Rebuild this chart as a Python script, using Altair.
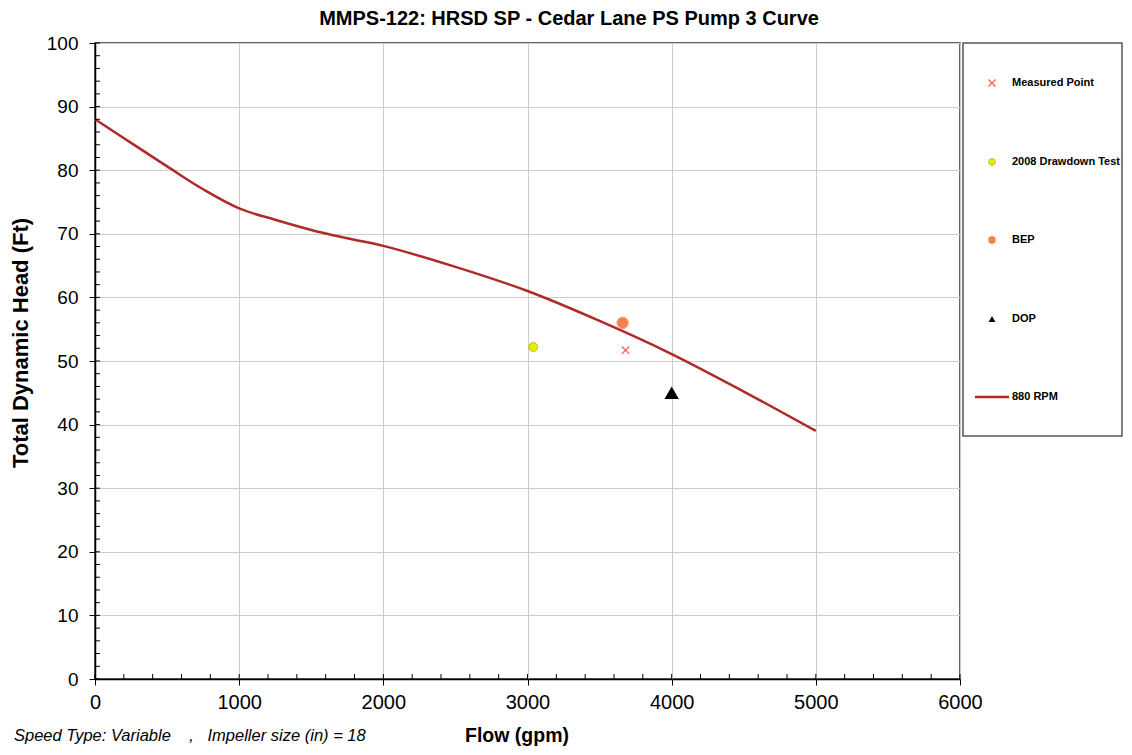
import altair as alt
import pandas as pd

# ---- data ----
curve_flow = [0, 250, 500, 750, 1000, 1250, 1500, 1750, 2000, 2500, 3000, 3500, 4000, 4500, 5000]
curve_head = [88.0, 84.3, 80.6, 77.0, 74.0, 72.2, 70.6, 69.3, 68.1, 64.8, 61.0, 56.3, 51.1, 45.2, 39.0]

measured_flow = [3680]
measured_head = [51.7]
drawdown_flow = [3040]
drawdown_head = [52.2]
bep_flow = [3660]
bep_head = [56.0]
dop_flow = [4000]
dop_head = [45.0]

x_major = [0, 1000, 2000, 3000, 4000, 5000, 6000]
y_major = [0, 10, 20, 30, 40, 50, 60, 70, 80, 90, 100]
x_minor = list(range(0, 6001, 200))
y_minor = list(range(0, 101, 2))

title_text = "MMPS-122: HRSD SP - Cedar Lane PS Pump 3 Curve"
x_title = "Flow (gpm)"
y_title = "Total Dynamic Head (Ft)"
footer_text = "Speed Type: Variable\u00a0\u00a0\u00a0\u00a0,\u00a0\u00a0\u00a0Impeller size (in) = 18"
legend_labels = ["Measured Point", "2008 Drawdown Test", "BEP", "DOP", "880 RPM"]

FONT = "Liberation Sans"
W, H = 865, 636

xs = alt.Scale(domain=[0, 6000], nice=False, zero=False)
ys = alt.Scale(domain=[0, 100], nice=False, zero=False)

x_axis = alt.Axis(values=x_major, grid=True, gridColor="#cccccc", gridWidth=1,
                  domainColor="#000000", domainWidth=1.5, tickColor="#000000",
                  tickSize=6, tickWidth=1, labelFont=FONT, labelFontSize=20,
                  labelColor="#000000", labelPadding=7, labelFlush=False,
                  format="d", title=None)
y_axis = alt.Axis(values=y_major, grid=True, gridColor="#cccccc", gridWidth=1,
                  domainColor="#000000", domainWidth=1.5, tickColor="#000000",
                  tickSize=6, tickWidth=1, labelFont=FONT, labelFontSize=19,
                  labelColor="#000000", labelPadding=11, labelFlush=False,
                  format="d", title=None)


def X():
    return alt.X("flow:Q", scale=xs, axis=x_axis, title=None)


def Y():
    return alt.Y("head:Q", scale=ys, axis=y_axis, title=None)


curve_df = pd.DataFrame({"flow": curve_flow, "head": curve_head})

line = alt.Chart(curve_df).mark_line(
    color="#b02a2a", strokeWidth=2.5, interpolate="catmull-rom"
).encode(x=X(), y=Y())

# inward minor ticks
minor_x = alt.Chart(pd.DataFrame({"flow": x_minor})).mark_rule(
    color="#000000", strokeWidth=1
).encode(x=X(), y=alt.value(H), y2=alt.value(H - 5))

minor_y = alt.Chart(pd.DataFrame({"head": y_minor})).mark_rule(
    color="#000000", strokeWidth=1
).encode(y=Y(), x=alt.value(0), x2=alt.value(5))

cross_path = "M-1,-1L1,1M1,-1L-1,1"

measured = alt.Chart(pd.DataFrame({"flow": measured_flow, "head": measured_head})).mark_point(
    shape=cross_path, size=55, stroke="#ff5a5a", strokeWidth=1.3, filled=False, opacity=1
).encode(x=X(), y=Y())

drawdown = alt.Chart(pd.DataFrame({"flow": drawdown_flow, "head": drawdown_head})).mark_point(
    shape="circle", size=80, fill="#e6ee00", stroke="#b8be20", strokeWidth=1, filled=True, opacity=1
).encode(x=X(), y=Y())

bep = alt.Chart(pd.DataFrame({"flow": bep_flow, "head": bep_head})).mark_point(
    shape="circle", size=130, fill="#f5804a", stroke="#f9a585", strokeWidth=1.2, filled=True, opacity=1
).encode(x=X(), y=Y())

dop = alt.Chart(pd.DataFrame({"flow": dop_flow, "head": dop_head})).mark_point(
    shape="triangle-up", size=210, fill="#000000", filled=True, opacity=1
).encode(x=X(), y=Y())

one = pd.DataFrame({"a": [0]})


def text_at(txt, x, y, size, weight="normal", style="normal", align="center", angle=0):
    kw = dict(text=txt, font=FONT, fontSize=size, fontWeight=weight, fontStyle=style,
              align=align, baseline="middle", color="#000000")
    if angle:
        kw["angle"] = angle
    return alt.Chart(one).mark_text(**kw).encode(x=alt.value(x), y=alt.value(y))


title = text_at(title_text, 474, -24, 20, weight="bold")
xt = text_at(x_title, 422, 693, 19.5, weight="bold")
yt = text_at(y_title, -74, 300, 22, weight="bold", angle=270)
footer = text_at(footer_text, -81, 693, 16.5, style="italic", align="left")

# legend box
legend_box = alt.Chart(one).mark_rect(
    fill="#ffffff", stroke="#555555", strokeWidth=1.5
).encode(x=alt.value(868), x2=alt.value(1027), y=alt.value(0), y2=alt.value(393))

leg_y = [40, 119, 197, 276, 354]
leg_texts = [text_at(lbl, 917, yy, 11, weight="bold", align="left")
             for lbl, yy in zip(legend_labels, leg_y)]

leg_measured = alt.Chart(one).mark_point(
    shape=cross_path, size=50, stroke="#ff5a5a", strokeWidth=1.3, filled=False, opacity=1
).encode(x=alt.value(897), y=alt.value(leg_y[0]))
leg_drawdown = alt.Chart(one).mark_point(
    shape="circle", size=45, fill="#e6ee00", stroke="#b8be20", strokeWidth=1, filled=True, opacity=1
).encode(x=alt.value(897), y=alt.value(leg_y[1]))
leg_bep = alt.Chart(one).mark_point(
    shape="circle", size=55, fill="#f5804a", stroke="#f9a585", strokeWidth=1, filled=True, opacity=1
).encode(x=alt.value(897), y=alt.value(leg_y[2]))
leg_dop = alt.Chart(one).mark_point(
    shape="triangle-up", size=45, fill="#000000", filled=True, opacity=1
).encode(x=alt.value(897), y=alt.value(leg_y[3]))
leg_line = alt.Chart(one).mark_rule(color="#b02a2a", strokeWidth=2.5).encode(
    x=alt.value(880), x2=alt.value(914), y=alt.value(leg_y[4]))

chart = alt.layer(
    line, minor_x, minor_y, drawdown, bep, measured, dop,
    title, xt, yt, footer,
    legend_box, *leg_texts, leg_measured, leg_drawdown, leg_bep, leg_dop, leg_line,
).properties(
    width=W, height=H,
    padding={"left": 87, "top": 35, "right": 164, "bottom": 67},
    autosize=alt.AutoSizeParams(type="none"),
).configure(
    background="#ffffff",
    view=alt.ViewConfig(stroke="#333333", strokeWidth=1.5),
)

chart.save("out.html", embed_options={"renderer": "svg", "actions": False})
